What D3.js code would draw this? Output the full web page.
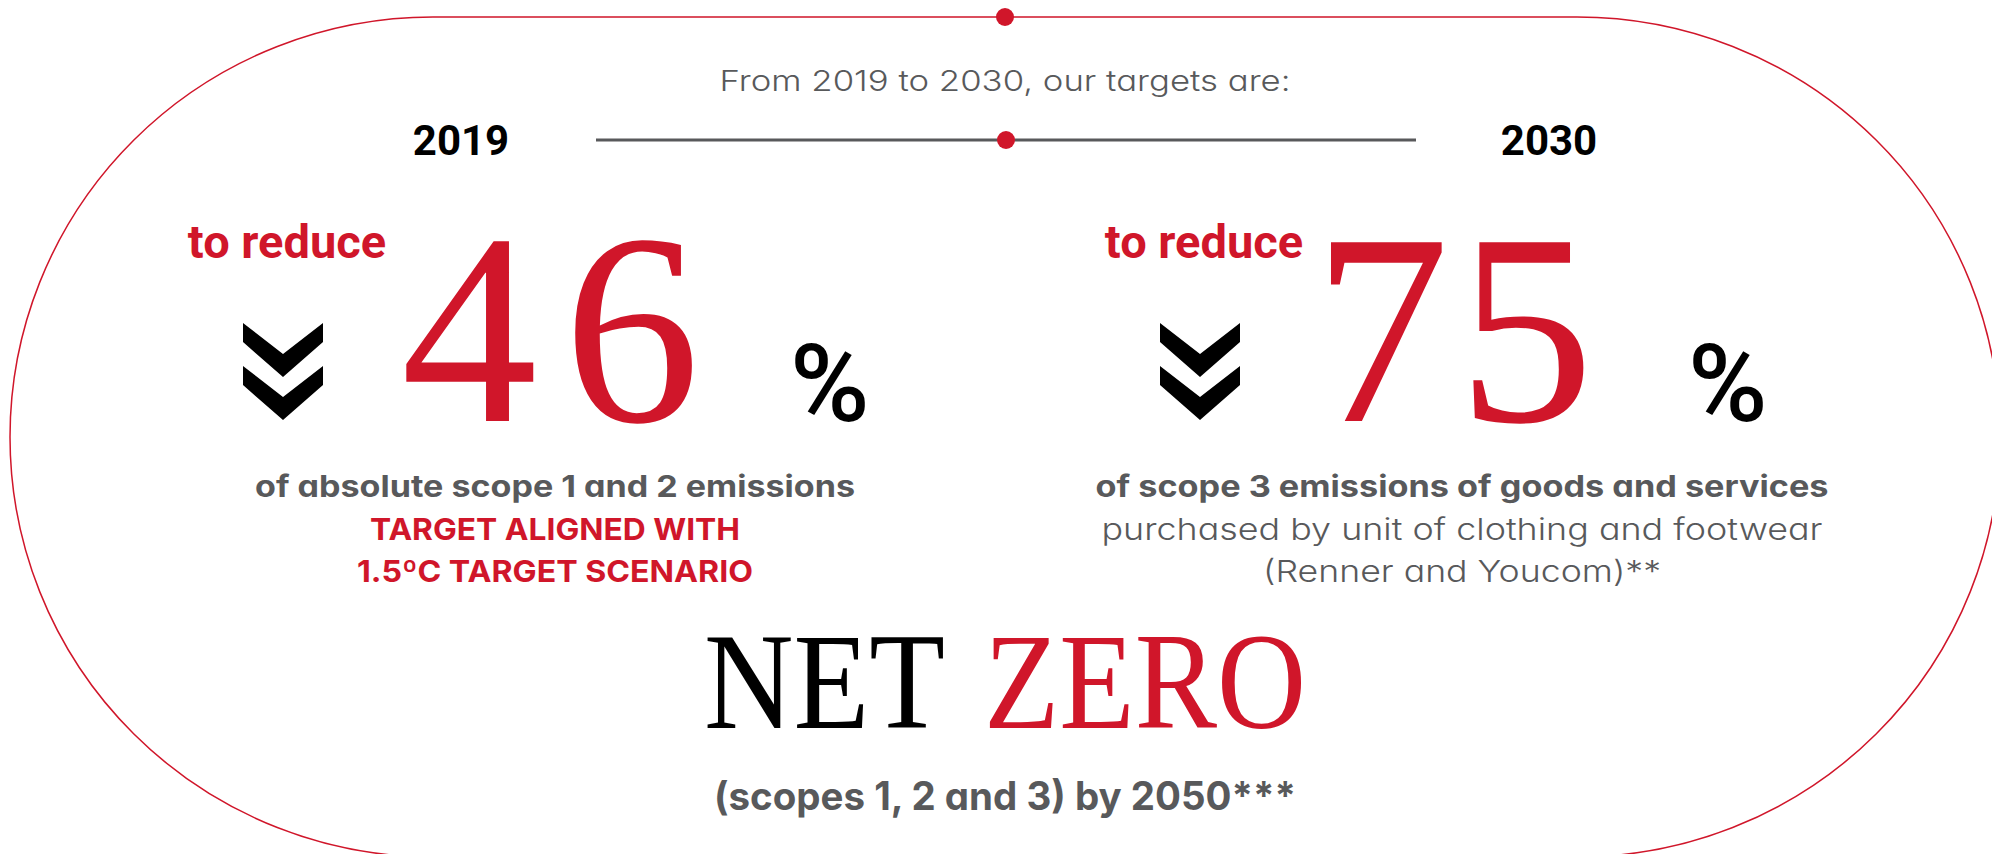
<!DOCTYPE html>
<html>
<head>
<meta charset="utf-8">
<script src="https://cdn.jsdelivr.net/npm/d3@7"></script>
<style>
  body { margin: 0; background: #fff; }
  svg { display: block; }
  .sans { font-family: Inter, "Noto Sans", sans-serif; font-feature-settings: "cv11"; }
</style>
</head>
<body>
<svg id="chart"></svg>
<script>
// content
var headline = "From 2019 to 2030, our targets are:";
var years = ["2019", "2030"];
var reductions = [46, 75];
var reduceLabel = "to reduce";
var scopeLines = [
    ["of absolute scope 1 and 2 emissions", "TARGET ALIGNED WITH", "1.5ºC TARGET SCENARIO"],
    ["of scope 3 emissions of goods and services", "purchased by unit of clothing and footwear", "(Renner and Youcom)**"]
];
var netZero = ["NET", "ZERO"];
var netZeroNote = "(scopes 1, 2 and 3) by 2050***";

var width = 1992,
    height = 854;
var red = "#d0162a",
    gray = "#58595b";

var svg = d3.select("#chart")
    .attr("width", width)
    .attr("height", height);

// stretch a text to the width it has in the original layout
function fit(sel, w) {
    sel.attr("textLength", w).attr("lengthAdjust", "spacingAndGlyphs");
}

// outer pill frame
svg.append("rect")
    .attr("x", 10)
    .attr("y", 17)
    .attr("width", 1990)
    .attr("height", 840)
    .attr("rx", 423)
    .attr("ry", 420)
    .attr("fill", "none")
    .attr("stroke", red)
    .attr("stroke-width", 1.5);

var cx = 1005;

svg.append("circle")
    .attr("cx", cx).attr("cy", 17).attr("r", 9)
    .attr("fill", red);

svg.append("text")
    .attr("class", "sans")
    .attr("x", cx)
    .attr("y", 91)
    .attr("text-anchor", "middle")
    .attr("font-size", 29)
    .attr("font-weight", 300)
    .attr("fill", gray)
    .text(headline)
    .call(fit, 571);

// timeline
var t = d3.scaleLinear().domain([0, 1]).range([596, 1416]);

svg.append("line")
    .attr("x1", t(0)).attr("x2", t(1))
    .attr("y1", 140).attr("y2", 140)
    .attr("stroke", gray)
    .attr("stroke-width", 3);

svg.append("circle")
    .attr("cx", t(0.5)).attr("cy", 140).attr("r", 9)
    .attr("fill", red);

var yearX = d3.scalePoint().domain(years).range([461, 1549]);

svg.selectAll(".year")
    .data(years)
    .enter().append("text")
    .attr("class", "year")
    .attr("x", function(d) { return yearX(d); })
    .attr("y", 155)
    .attr("text-anchor", "middle")
    .attr("font-family", "Roboto, sans-serif")
    .attr("font-weight", 700)
    .attr("font-size", 42)
    .attr("fill", "#000")
    .text(function(d) { return d; });

// the two target columns
var col = d3.scalePoint().domain(years).range([283, 1200]);
var numX = d3.scalePoint().domain(years).range([401, 1313]);
var pctX = d3.scalePoint().domain(years).range([790, 1688]);
var descX = d3.scalePoint().domain(years).range([555, 1462]);

svg.selectAll(".reduce")
    .data(years)
    .enter().append("text")
    .attr("class", "reduce")
    .attr("x", function(d) { return col(d) + 4; })
    .attr("y", 258)
    .attr("text-anchor", "middle")
    .attr("font-family", "Roboto, sans-serif")
    .attr("font-weight", 700)
    .attr("font-size", 47)
    .attr("fill", red)
    .text(reduceLabel);

// double chevron
var chevron = function(x, y) {
    return "M" + (x - 40) + "," + y + "L" + x + "," + (y + 31) + "L" + (x + 40) + "," + y +
        "L" + (x + 40) + "," + (y + 19) + "L" + x + "," + (y + 54) + "L" + (x - 40) + "," + (y + 19) + "Z";
};
svg.selectAll(".chev")
    .data(years)
    .enter().append("path")
    .attr("class", "chev")
    .attr("d", function(d) { return chevron(col(d), 323) + chevron(col(d), 366); })
    .attr("fill", "#000");

svg.selectAll(".num")
    .data(reductions)
    .enter().append("text")
    .attr("class", "num")
    .attr("x", function(d, i) { return numX(years[i]); })
    .attr("y", 421)
    .attr("font-family", "'Liberation Serif', serif")
    .attr("font-size", 273)
    .attr("letter-spacing", function(d, i) { return i ? 8 : 26; })
    .attr("fill", red)
    .text(function(d) { return d; });

svg.selectAll(".pct")
    .data(years)
    .enter().append("text")
    .attr("class", "pct")
    .attr("x", function(d) { return pctX(d); })
    .attr("y", 421)
    .attr("font-family", "Roboto, sans-serif")
    .attr("font-size", 108)
    .attr("font-weight", 500)
    .attr("fill", "#000")
    .text("%");

var lineStyle = [
    [{ c: gray, w: 700, len: 600 }, { c: red, w: 700, len: 370 }, { c: red, w: 700, len: 396 }],
    [{ c: gray, w: 700, len: 733 }, { c: gray, w: 300, len: 721 }, { c: gray, w: 300, len: 398 }]
];

years.forEach(function(y, i) {
    svg.selectAll(".desc" + i)
        .data(scopeLines[i])
        .enter().append("text")
        .attr("class", "sans desc" + i)
        .attr("x", descX(y))
        .attr("y", function(s, j) { return 497 + j * 42.5; })
        .attr("text-anchor", "middle")
        .attr("font-size", 30)
        .attr("font-weight", function(s, j) { return lineStyle[i][j].w; })
        .attr("fill", function(s, j) { return lineStyle[i][j].c; })
        .attr("textLength", function(s, j) { return lineStyle[i][j].len; })
        .attr("lengthAdjust", "spacingAndGlyphs")
        .text(function(s) { return s; });
});

// net zero
var nz = [{ x: 704, w: 241, c: "#000" }, { x: 984, w: 322, c: red }];
svg.selectAll(".nz")
    .data(netZero)
    .enter().append("text")
    .attr("class", "nz")
    .attr("x", function(d, i) { return nz[i].x; })
    .attr("y", 728)
    .attr("font-family", "'Liberation Serif', serif")
    .attr("font-size", 137)
    .attr("textLength", function(d, i) { return nz[i].w; })
    .attr("lengthAdjust", "spacingAndGlyphs")
    .attr("fill", function(d, i) { return nz[i].c; })
    .text(function(d) { return d; });

svg.append("text")
    .attr("class", "sans")
    .attr("x", cx)
    .attr("y", 810)
    .attr("text-anchor", "middle")
    .attr("font-size", 39)
    .attr("font-weight", 700)
    .attr("fill", gray)
    .text(netZeroNote)
    .call(fit, 582);
</script>
</body>
</html>
